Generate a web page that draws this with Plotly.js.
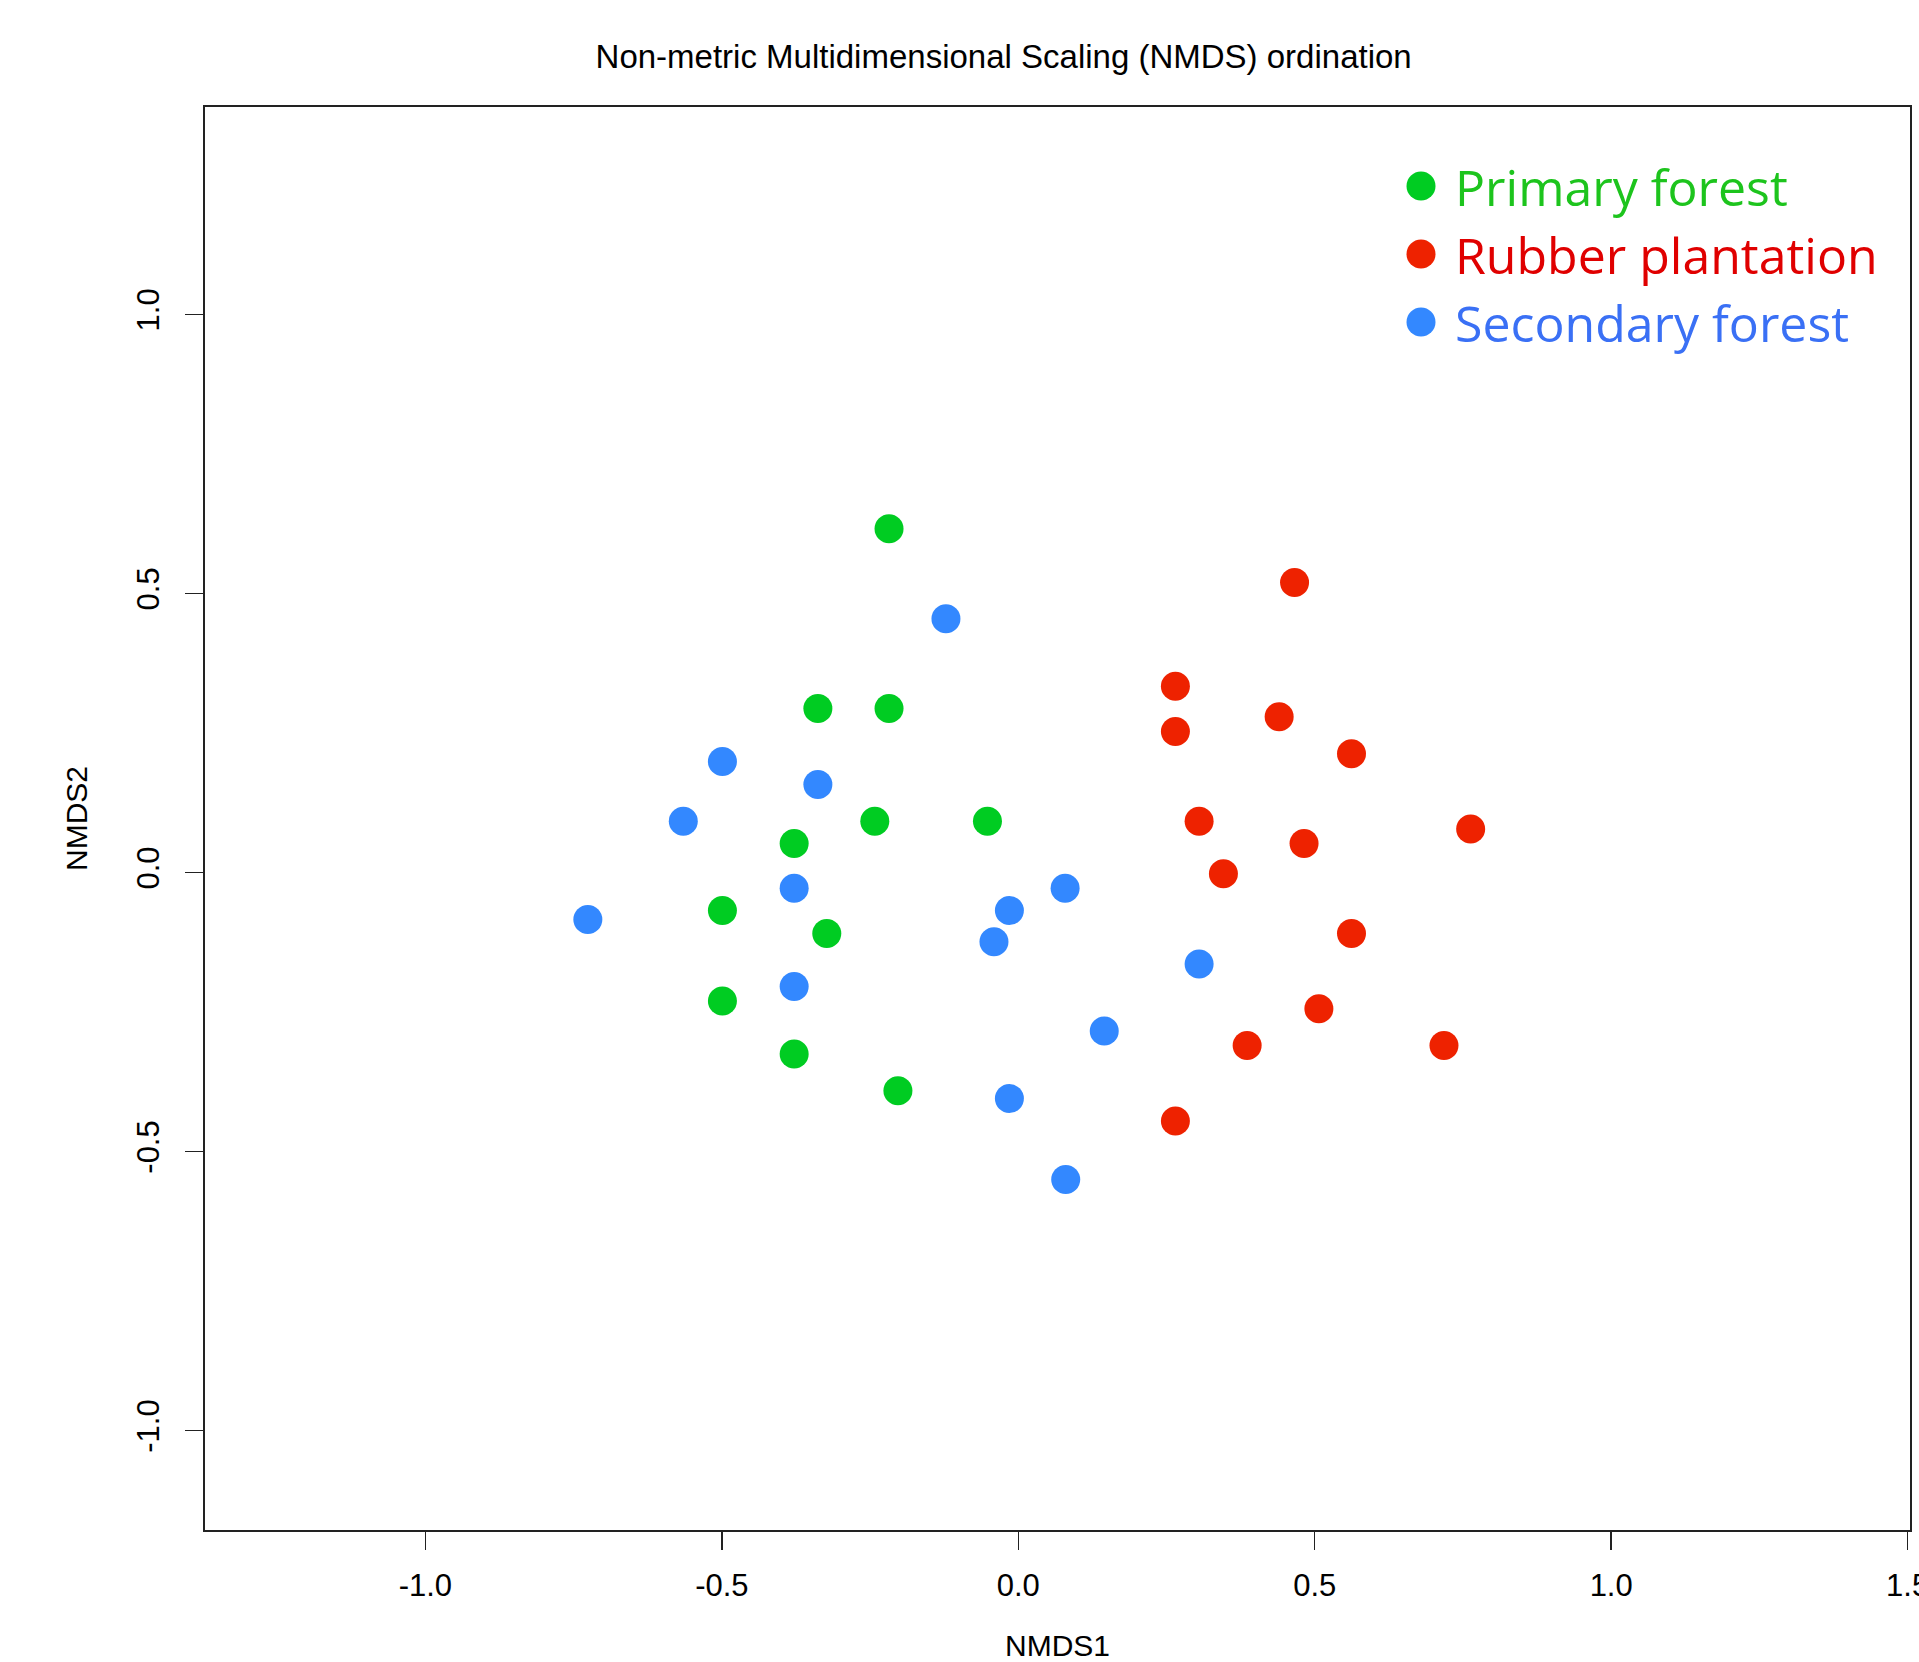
<!DOCTYPE html>
<html>
<head>
<meta charset="utf-8">
<script src="https://cdn.plot.ly/plotly-3.0.1.min.js"></script>
<style>html,body{margin:0;padding:0;background:#fff;}#chart{width:1919px;height:1662px;}</style>
</head>
<body>
<div id="chart"></div>
<script>
// ---- data ----
const groupNames = ["Primary forest", "Rubber plantation", "Secondary forest"];
const groupColors = ["#00CC22", "#EE2200", "#3388FF"];
const legendTextColors = ["#1DC41D", "#E00000", "#3A70F5"];

const primaryX = [-0.218, -0.338, -0.218, -0.242, -0.052, -0.378, -0.499, -0.323, -0.499, -0.378, -0.203];
const primaryY = [0.616, 0.294, 0.294, 0.092, 0.092, 0.052, -0.068, -0.109, -0.230, -0.325, -0.391];

const rubberX = [0.466, 0.265, 0.440, 0.265, 0.562, 0.305, 0.763, 0.482, 0.346, 0.562, 0.507, 0.386, 0.718, 0.265];
const rubberY = [0.520, 0.334, 0.279, 0.253, 0.213, 0.092, 0.078, 0.052, -0.002, -0.109, -0.244, -0.310, -0.310, -0.445];

const secondaryX = [-0.122, -0.499, -0.338, -0.565, -0.378, 0.079, -0.726, -0.015, -0.041, 0.305, -0.378, 0.145, -0.015, 0.080];
const secondaryY = [0.455, 0.199, 0.158, 0.092, -0.028, -0.028, -0.084, -0.068, -0.124, -0.164, -0.204, -0.284, -0.405, -0.550];

const xTickVals = [-1.0, -0.5, 0.0, 0.5, 1.0, 1.5];
const xTickText = ["-1.0", "-0.5", "0.0", "0.5", "1.0", "1.5"];
const yTickVals = [-1.0, -0.5, 0.0, 0.5, 1.0];
const yTickText = ["-1.0", "-0.5", "0.0", "0.5", "1.0"];

const chartTitle = "Non-metric Multidimensional Scaling (NMDS) ordination";
const xTitle = "NMDS1";
const yTitle = "NMDS2";

// ---- build ----
const xs = [primaryX, rubberX, secondaryX];
const ys = [primaryY, rubberY, secondaryY];
const traces = groupNames.map((name, i) => ({
  type: "scatter",
  mode: "markers",
  x: xs[i],
  y: ys[i],
  name: '<span style="color:' + legendTextColors[i] + '">' + name + '</span>',
  marker: { color: groupColors[i], size: 29, line: { width: 0 } },
  hoverinfo: "x+y"
}));

const fam = "Liberation Sans, Arial, sans-serif";
const tickFont = { family: fam, size: 31, color: "#000" };
const axTitleFont = { family: fam, size: 30, color: "#000" };

const layout = {
  width: 1919,
  height: 1662,
  margin: { l: 205, r: 9, t: 107, b: 132, pad: 0 },
  paper_bgcolor: "#fff",
  plot_bgcolor: "#fff",
  showlegend: true,
  title: {
    text: chartTitle,
    font: { family: fam, size: 33, color: "#000" },
    xref: "container", x: 0.523, xanchor: "center",
    yref: "container", y: 1 - 56 / 1662, yanchor: "middle"
  },
  xaxis: {
    range: [-1.3717, 1.504],
    tickmode: "array", tickvals: xTickVals, ticktext: xTickText,
    ticks: "outside", ticklen: 18, tickwidth: 1.5, tickcolor: "#222",
    ticklabelstandoff: 9,
    ticklabeloverflow: "allow",
    showline: true, mirror: true, linecolor: "#222", linewidth: 2,
    showgrid: false, zeroline: false,
    tickfont: tickFont,
    title: { text: xTitle, font: axTitleFont, standoff: 52 }
  },
  yaxis: {
    range: [-1.178, 1.3718],
    tickmode: "array", tickvals: yTickVals, ticktext: yTickText,
    tickangle: -90,
    ticks: "outside", ticklen: 18, tickwidth: 1.5, tickcolor: "#222",
    ticklabelstandoff: 14,
    ticklabeloverflow: "allow",
    showline: true, mirror: true, linecolor: "#222", linewidth: 2,
    showgrid: false, zeroline: false,
    tickfont: tickFont,
    title: { text: yTitle, font: axTitleFont, standoff: 34 }
  },
  legend: {
    x: (1421 - 34 - 205) / 1705, xanchor: "left",
    y: 1 - (147 - 107) / 1423, yanchor: "top",
    bgcolor: "rgba(0,0,0,0)", borderwidth: 0,
    itemwidth: 58,
    font: { family: "Open Sans, Noto Sans, sans-serif", size: 50, color: "#000" },
    tracegroupgap: 0
  }
};

Plotly.newPlot("chart", traces, layout, { displayModeBar: false, staticPlot: true }).then(() => {
  document.querySelectorAll(".legend .legendpoints path.scatterpts").forEach(p => {
    const t = p.getAttribute("transform") || "";
    p.setAttribute("transform", t + " scale(1.8125)");
  });
});
</script>
</body>
</html>
